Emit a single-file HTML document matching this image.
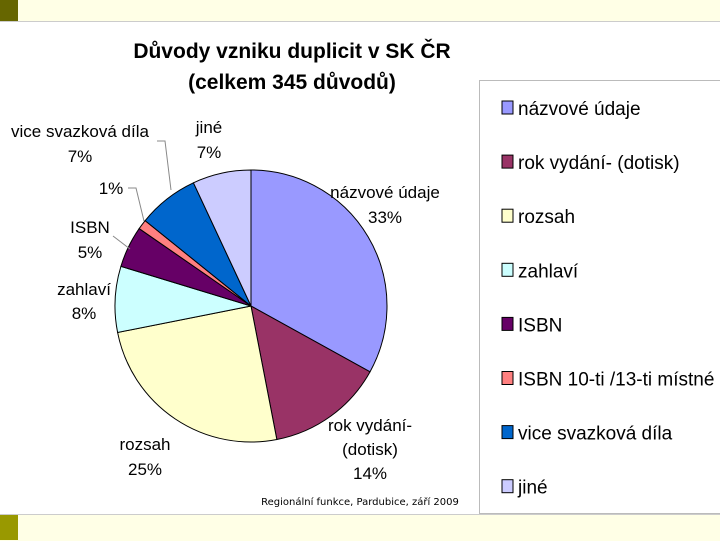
<!DOCTYPE html>
<html><head><meta charset="utf-8"><style>
body{margin:0;width:720px;height:540px;overflow:hidden;background:#fff;font-family:"Liberation Sans",sans-serif;position:relative}
.band{position:absolute;left:0;width:720px;background:#FFFFE6}
.sq{position:absolute;left:0;width:18px}
</style></head><body>
<div class="band" style="top:0;height:21px;border-bottom:1px solid #ccc"></div>
<div class="sq" style="top:0;height:21px;background:#666600"></div>
<div class="band" style="top:514px;height:26px;border-top:1px solid #ccc"></div>
<div class="sq" style="top:515px;height:25px;background:#999900"></div>
<svg width="720" height="540" style="position:absolute;left:0;top:0">
<g font-family="Liberation Sans, sans-serif" font-weight="bold" font-size="21" text-anchor="middle" fill="#000">
<text x="292" y="58">Důvody vzniku duplicit v SK ČR</text>
<text x="292" y="89">(celkem 345 důvodů)</text>
</g>
<rect x="479.5" y="80.5" width="250" height="433" fill="#fff" stroke="#bbb"/>
<g id="slices"></g>
<g id="legend"></g>
<g stroke="#888" fill="none" stroke-width="1">
<polyline points="157,141 165,141 171,190"/>
<polyline points="128,188 136,188 144,221"/>
<polyline points="113,236 130,249"/>
</g>
<g font-family="Liberation Sans, sans-serif" font-size="17" text-anchor="middle" fill="#000">
<text x="385" y="198">názvové údaje</text><text x="385" y="223">33%</text>
<text x="370" y="431">rok vydání-</text><text x="370" y="455">(dotisk)</text><text x="370" y="479">14%</text>
<text x="145" y="450">rozsah</text><text x="145" y="475">25%</text>
<text x="84" y="295">zahlaví</text><text x="84" y="319">8%</text>
<text x="90" y="233">ISBN</text><text x="90" y="258">5%</text>
<text x="111" y="194">1%</text>
<text x="80" y="137">vice svazková díla</text><text x="80" y="162">7%</text>
<text x="209" y="133">jiné</text><text x="209" y="158">7%</text>
</g>
<text x="360" y="505" font-family="DejaVu Sans, sans-serif" font-size="10" text-anchor="middle">Regionální funkce, Pardubice, září 2009</text>
</svg>
<script>
const categories=["názvové údaje","rok vydání- (dotisk)","rozsah","zahlaví","ISBN","ISBN 10-ti /13-ti místné","vice svazková díla","jiné"];
const values=[114,48,86,27,17,4,25,24];
const colors=["#9999FF","#993366","#FFFFCC","#CCFFFF","#660066","#FF8080","#0066CC","#CCCCFF"];
const NS="http://www.w3.org/2000/svg";
const cx=251,cy=306,r=136;
const total=values.reduce((a,b)=>a+b,0);
const g=document.getElementById('slices');
let a0=0;
values.forEach((v,i)=>{
  const a1=a0+v/total*2*Math.PI;
  const x0=cx+r*Math.sin(a0),y0=cy-r*Math.cos(a0),x1=cx+r*Math.sin(a1),y1=cy-r*Math.cos(a1);
  const p=document.createElementNS(NS,'path');
  p.setAttribute('d',`M${cx},${cy}L${x0},${y0}A${r},${r} 0 ${a1-a0>Math.PI?1:0} 1 ${x1},${y1}Z`);
  p.setAttribute('fill',colors[i]);p.setAttribute('stroke','#000');p.setAttribute('stroke-width','1');
  
  
  g.appendChild(p);a0=a1;
});
const lg=document.getElementById('legend');
categories.forEach((c,i)=>{
  const y=108+i*54.1;
  const rc=document.createElementNS(NS,'rect');
  rc.setAttribute('x',502);rc.setAttribute('y',y-7);rc.setAttribute('width',11);rc.setAttribute('height',13);
  rc.setAttribute('fill',colors[i]);rc.setAttribute('stroke','#000');
  
  
  lg.appendChild(rc);
  const t=document.createElementNS(NS,'text');
  t.setAttribute('x',518);t.setAttribute('y',y+7);t.setAttribute('font-size','19');
  t.setAttribute('font-family','Liberation Sans, sans-serif');
  t.textContent=c;
  
  
  lg.appendChild(t);
});
</script>
</body></html>
